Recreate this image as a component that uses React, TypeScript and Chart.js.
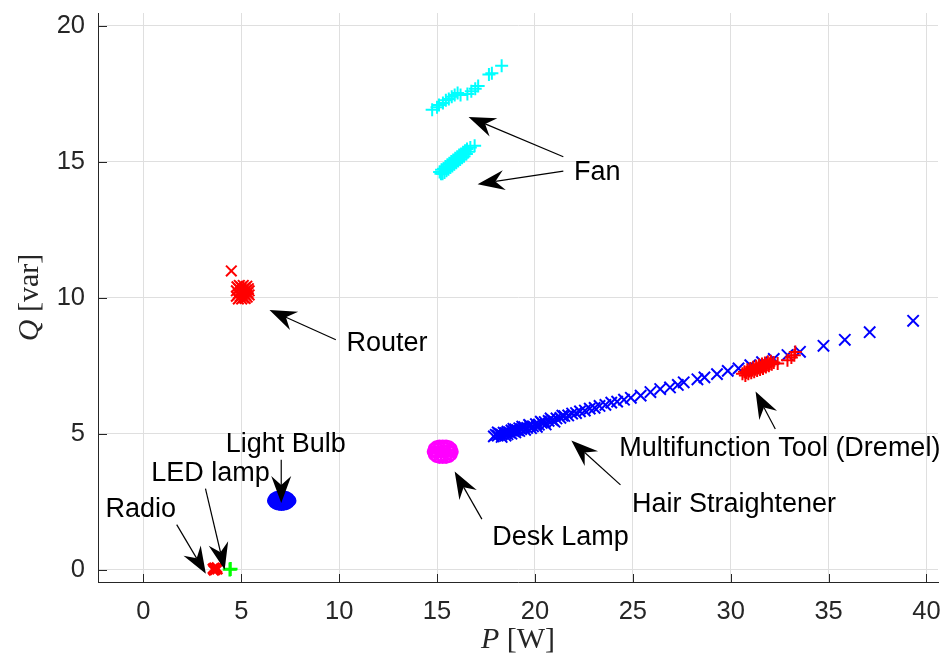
import { useEffect, useRef } from "react";
import { Chart, registerables } from "chart.js";

Chart.register(...registerables);

type Pt = [number, number];

// Axis settings
const xTickValues = [0, 5, 10, 15, 20, 25, 30, 35, 40];
const yTickValues = [0, 5, 10, 15, 20];
const xMin = -2.32;
const xMax = 40.59;
const yMin = -0.45;
const yMax = 20.46;

// Appliance measurements (P [W], Q [var])
const fanUpper: Pt[] = [
  [14.75, 16.9], [15.0, 17.0], [15.1, 17.08], [15.3, 17.15], [15.45, 17.25],
  [15.6, 17.3], [15.75, 17.38], [15.9, 17.45], [16.05, 17.52], [16.2, 17.45],
  [16.55, 17.48], [16.75, 17.58], [16.95, 17.68], [17.1, 17.78], [17.65, 18.2],
  [17.8, 18.25], [18.3, 18.52],
];
const fanLower: Pt[] = [
  [15.13, 14.62], [15.23, 14.7], [15.28, 14.55], [15.33, 14.74], [15.38, 14.6],
  [15.43, 14.82], [15.48, 14.66], [15.53, 14.88], [15.58, 14.72], [15.63, 14.94],
  [15.68, 14.78], [15.73, 15.0], [15.78, 14.84], [15.83, 15.06], [15.88, 14.9],
  [15.93, 15.12], [15.98, 14.96], [16.03, 15.18], [16.08, 15.02], [16.13, 15.24],
  [16.18, 15.08], [16.23, 15.28], [16.28, 15.14], [16.33, 15.34], [16.38, 15.2],
  [16.43, 15.4], [16.5, 15.28], [16.53, 15.46], [16.6, 15.36], [16.7, 15.52],
  [16.92, 15.58], [15.2, 14.55], [15.55, 14.8], [15.9, 15.0], [16.2, 15.18],
];
const routerPts: Pt[] = [
  [4.75, 10.05], [4.75, 10.25], [4.78, 10.4], [4.85, 9.95], [4.85, 10.15],
  [4.88, 10.32], [4.9, 10.45], [4.95, 10.05], [4.98, 10.22], [5.0, 10.38],
  [5.02, 9.95], [5.05, 10.12], [5.08, 10.3], [5.1, 10.45], [5.12, 10.0],
  [5.15, 10.2], [5.18, 10.36], [5.2, 9.97], [5.22, 10.1], [5.25, 10.28],
  [5.28, 10.42], [5.3, 10.02], [5.33, 10.18], [5.36, 10.33], [5.4, 10.1],
  [5.4, 10.25], [4.49, 10.98],
];
const lightBulbPts: Pt[] = [
  [6.63, 2.54], [6.7, 2.47], [6.7, 2.62], [6.8, 2.42], [6.8, 2.66],
  [6.92, 2.4], [6.92, 2.68], [7.05, 2.39], [7.05, 2.69], [7.18, 2.4],
  [7.18, 2.68], [7.3, 2.42], [7.3, 2.66], [7.4, 2.47], [7.4, 2.62],
  [7.5, 2.54], [6.85, 2.55], [7.3, 2.55], [7.0, 2.5], [7.15, 2.6],
  [6.75, 2.55], [7.42, 2.55], [6.95, 2.6], [7.22, 2.48],
];
const ledLampPts: Pt[] = [[4.41, 0.01], [4.45, 0.03]];
const radioPts: Pt[] = [
  [3.55, 0.03], [3.62, 0.07], [3.67, 0.0], [3.72, 0.05], [3.78, 0.02],
  [3.6, -0.02], [3.75, 0.08],
];
const deskLampPts: Pt[] = [
  [14.79, 4.34], [14.85, 4.22], [14.85, 4.46], [14.97, 4.15], [14.97, 4.53],
  [15.12, 4.12], [15.12, 4.56], [15.29, 4.12], [15.29, 4.56], [15.46, 4.12],
  [15.46, 4.56], [15.61, 4.15], [15.61, 4.53], [15.73, 4.22], [15.73, 4.46],
  [15.79, 4.34], [15.0, 4.3], [15.6, 4.4], [15.2, 4.2], [15.4, 4.48],
  [14.9, 4.34], [15.68, 4.34], [15.05, 4.45], [15.52, 4.24],
];
const hairStraightenerPts: Pt[] = [
  [17.9, 4.9], [18.0, 4.96], [18.1, 4.93], [18.1, 5.05], [18.2, 5.0],
  [18.3, 4.97], [18.3, 4.88], [18.4, 5.04], [18.5, 5.02], [18.5, 4.93],
  [18.6, 5.08], [18.6, 4.98], [18.7, 5.05], [18.8, 5.12], [18.8, 5.0],
  [18.9, 5.09], [18.9, 5.18], [19.0, 5.16], [19.0, 5.05], [19.1, 5.13],
  [19.2, 5.2], [19.2, 5.1], [19.3, 5.17], [19.35, 5.26], [19.45, 5.24],
  [19.5, 5.14], [19.6, 5.21], [19.7, 5.32], [19.75, 5.29], [19.8, 5.2],
  [19.9, 5.27], [20.05, 5.35], [20.1, 5.25], [20.2, 5.33], [20.3, 5.44],
  [20.35, 5.4], [20.5, 5.43], [20.55, 5.34], [20.7, 5.47], [20.8, 5.56],
  [20.9, 5.5], [21.0, 5.44], [21.1, 5.56], [21.3, 5.58], [21.4, 5.66],
  [21.5, 5.65], [21.7, 5.67], [21.9, 5.74], [22.1, 5.76], [22.3, 5.82],
  [22.55, 5.85], [22.8, 5.92], [23.05, 5.95], [23.3, 6.02], [23.6, 6.06],
  [23.9, 6.14], [24.2, 6.18], [24.55, 6.25], [24.9, 6.32], [25.4, 6.4],
  [25.9, 6.53], [26.4, 6.64], [26.9, 6.7], [27.3, 6.79], [27.6, 6.89],
  [28.3, 7.0], [28.66, 7.07], [29.3, 7.19], [29.85, 7.31], [30.4, 7.4],
  [31.0, 7.52], [31.6, 7.63], [32.2, 7.75], [32.9, 7.89], [33.54, 8.01],
  [34.74, 8.23], [35.83, 8.45], [37.1, 8.73], [39.32, 9.15],
];
const dremelPts: Pt[] = [
  [30.6, 7.2], [30.7, 7.28], [30.75, 7.14], [30.8, 7.25], [30.85, 7.35],
  [30.9, 7.2], [30.95, 7.3], [31.0, 7.4], [31.05, 7.24], [31.1, 7.33],
  [31.15, 7.44], [31.2, 7.28], [31.25, 7.37], [31.3, 7.48], [31.35, 7.32],
  [31.4, 7.41], [31.45, 7.52], [31.5, 7.36], [31.55, 7.45], [31.6, 7.56],
  [31.65, 7.4], [31.7, 7.49], [31.75, 7.6], [31.8, 7.45], [31.85, 7.53],
  [31.9, 7.64], [31.95, 7.5], [32.0, 7.57], [32.05, 7.66], [32.1, 7.55],
  [32.2, 7.62], [32.4, 7.58], [32.9, 7.7], [33.1, 7.8], [33.25, 7.88],
  [33.3, 8.0],
];

// Annotations
const annotationTexts = [
  "Fan", "Router", "Light Bulb", "LED lamp", "Radio",
  "Desk Lamp", "Hair Straightener", "Multifunction Tool (Dremel)",
];
const annotationTextPos: Pt[] = [
  [23.18, 14.6], [12.44, 8.33], [7.27, 4.59], [3.43, 3.55], [-0.14, 2.21],
  [21.31, 1.17], [30.17, 2.39], [32.51, 4.47],
];
const arrowTails: Pt[] = [
  [21.45, 15.18], [21.45, 14.65], [9.83, 8.45], [7.04, 4.04], [3.17, 2.98],
  [1.7, 1.66], [17.29, 1.86], [24.37, 3.12], [32.28, 5.17],
];
const arrowTips: Pt[] = [
  [16.61, 16.64], [17.07, 14.17], [6.44, 9.55], [7.04, 2.45], [4.15, 0.0],
  [3.19, -0.15], [15.9, 3.61], [21.86, 4.75], [31.27, 6.55],
];

const AXIS_COLOR = "#262626";
const GRID_COLOR = "#dfdfdf";

const toXY = (pts: Pt[]) => pts.map(([x, y]) => ({ x, y }));

function drawArrow(ctx: CanvasRenderingContext2D, x1: number, y1: number, x2: number, y2: number) {
  const dx = x2 - x1;
  const dy = y2 - y1;
  const len = Math.hypot(dx, dy);
  const ux = dx / len;
  const uy = dy / len;
  const L = 27;
  const W = 10;
  const N = 18;
  const bx = x2 - ux * L;
  const by = y2 - uy * L;
  const nx = x2 - ux * N;
  const ny = y2 - uy * N;
  const px = -uy;
  const py = ux;
  ctx.beginPath();
  ctx.moveTo(x1, y1);
  ctx.lineTo(nx, ny);
  ctx.stroke();
  ctx.beginPath();
  ctx.moveTo(x2, y2);
  ctx.lineTo(bx + px * W, by + py * W);
  ctx.lineTo(nx, ny);
  ctx.lineTo(bx - px * W, by - py * W);
  ctx.closePath();
  ctx.fill();
}

const overlayPlugin = {
  id: "overlay",
  afterDraw(chart: any) {
    const ctx: CanvasRenderingContext2D = chart.ctx;
    const xs = chart.scales.x;
    const ys = chart.scales.y;
    const area = chart.chartArea;
    ctx.save();
    // inward ticks
    ctx.strokeStyle = AXIS_COLOR;
    ctx.lineWidth = 1;
    xTickValues.forEach((v) => {
      const px = Math.round(xs.getPixelForValue(v)) + 0.5;
      ctx.beginPath();
      ctx.moveTo(px, area.bottom);
      ctx.lineTo(px, area.bottom - 8);
      ctx.stroke();
    });
    yTickValues.forEach((v) => {
      const py = Math.round(ys.getPixelForValue(v)) + 0.5;
      ctx.beginPath();
      ctx.moveTo(area.left, py);
      ctx.lineTo(area.left + 9, py);
      ctx.stroke();
    });
    // arrows
    ctx.strokeStyle = "#000";
    ctx.fillStyle = "#000";
    ctx.lineWidth = 1.2;
    arrowTails.forEach((t, i) => {
      const tip = arrowTips[i];
      drawArrow(
        ctx,
        xs.getPixelForValue(t[0]), ys.getPixelForValue(t[1]),
        xs.getPixelForValue(tip[0]), ys.getPixelForValue(tip[1])
      );
    });
    // annotation texts
    ctx.font = '27px "Liberation Sans", Arial, sans-serif';
    ctx.textAlign = "center";
    ctx.textBaseline = "middle";
    ctx.fillStyle = "#000";
    annotationTexts.forEach((txt, i) => {
      const p = annotationTextPos[i];
      ctx.fillText(txt, xs.getPixelForValue(p[0]), ys.getPixelForValue(p[1]));
    });
    // axis labels
    const italic = 'italic 30px "Liberation Serif", "Times New Roman", serif';
    const roman = '30px "Liberation Serif", "Times New Roman", serif';
    const drawMixed = (a: string, b: string, cx: number, cy: number, rot: number) => {
      ctx.save();
      ctx.translate(cx, cy);
      ctx.rotate(rot);
      ctx.fillStyle = AXIS_COLOR;
      ctx.textAlign = "left";
      ctx.textBaseline = "middle";
      ctx.font = italic;
      const wa = ctx.measureText(a).width;
      ctx.font = roman;
      const wb = ctx.measureText(b).width;
      const start = -(wa + wb) / 2;
      ctx.font = italic;
      ctx.fillText(a, start, 0);
      ctx.font = roman;
      ctx.fillText(b, start + wa, 0);
      ctx.restore();
    };
    drawMixed("P", " [W]", (area.left + area.right) / 2, 640, 0);
    drawMixed("Q", " [var]", 30, (area.top + area.bottom) / 2, -Math.PI / 2);
    ctx.restore();
  },
};

export default function App() {
  const canvasRef = useRef<HTMLCanvasElement | null>(null);

  useEffect(() => {
    if (!canvasRef.current) return;
    const tickFont = { family: '"Liberation Sans", Arial, sans-serif', size: 25.5 };
    const chart = new Chart(canvasRef.current, {
      type: "scatter",
      data: {
        datasets: [
          { data: toXY(ledLampPts), pointStyle: "cross", pointRadius: 7, borderColor: "#00ff00", pointBorderWidth: 2.5 },
          { data: toXY(radioPts), pointStyle: "crossRot", pointRadius: 7, borderColor: "#ff0000", pointBorderWidth: 2.5 },
          { data: toXY(dremelPts), pointStyle: "cross", pointRadius: 6.5, borderColor: "#ff0000", pointBorderWidth: 2 },
          { data: toXY(hairStraightenerPts), pointStyle: "crossRot", pointRadius: 8, borderColor: "#0000ff", pointBorderWidth: 2 },
          { data: toXY(deskLampPts), pointStyle: "circle", pointRadius: 5, borderColor: "#ff00ff", backgroundColor: "rgba(0,0,0,0)", pointBorderWidth: 2.5 },
          { data: toXY(lightBulbPts), pointStyle: "circle", pointRadius: 5, borderColor: "#0000ff", backgroundColor: "rgba(0,0,0,0)", pointBorderWidth: 2.5 },
          { data: toXY(routerPts), pointStyle: "crossRot", pointRadius: 7.5, borderColor: "#ff0000", pointBorderWidth: 2 },
          { data: toXY(fanLower), pointStyle: "cross", pointRadius: 6.5, borderColor: "#00ffff", pointBorderWidth: 2 },
          { data: toXY(fanUpper), pointStyle: "cross", pointRadius: 6.5, borderColor: "#00ffff", pointBorderWidth: 2 },
        ] as any,
      },
      options: {
        animation: false,
        responsive: false,
        events: [],
        layout: { padding: { top: 13, right: 6, bottom: 0, left: 0 } },
        plugins: { legend: { display: false }, tooltip: { enabled: false } },
        scales: {
          x: {
            type: "linear",
            min: xMin,
            max: xMax,
            afterFit: (s: any) => {
              s.height = 77;
              s.paddingLeft = 0;
              s.paddingRight = 0;
            },
            afterBuildTicks: (s: any) => {
              s.ticks = xTickValues.map((v) => ({ value: v }));
            },
            ticks: { font: tickFont, color: AXIS_COLOR, padding: 15, maxRotation: 0, autoSkip: false },
            grid: { color: GRID_COLOR, drawTicks: false, lineWidth: 1 },
            border: { display: true, color: AXIS_COLOR, width: 1 },
          },
          y: {
            type: "linear",
            min: yMin,
            max: yMax,
            afterFit: (s: any) => {
              s.width = 98;
              s.paddingTop = 0;
              s.paddingBottom = 0;
            },
            afterBuildTicks: (s: any) => {
              s.ticks = yTickValues.map((v) => ({ value: v }));
            },
            ticks: { font: tickFont, color: AXIS_COLOR, padding: 13, autoSkip: false },
            grid: { color: GRID_COLOR, drawTicks: false, lineWidth: 1 },
            border: { display: true, color: AXIS_COLOR, width: 1 },
          },
        },
      } as any,
      plugins: [overlayPlugin],
    });
    return () => chart.destroy();
  }, []);

  return (
    <div style={{ position: "fixed", left: 0, top: 0, width: 948, height: 659, background: "#fff" }}>
      <canvas ref={canvasRef} width={948} height={659} style={{ display: "block" }} />
    </div>
  );
}
